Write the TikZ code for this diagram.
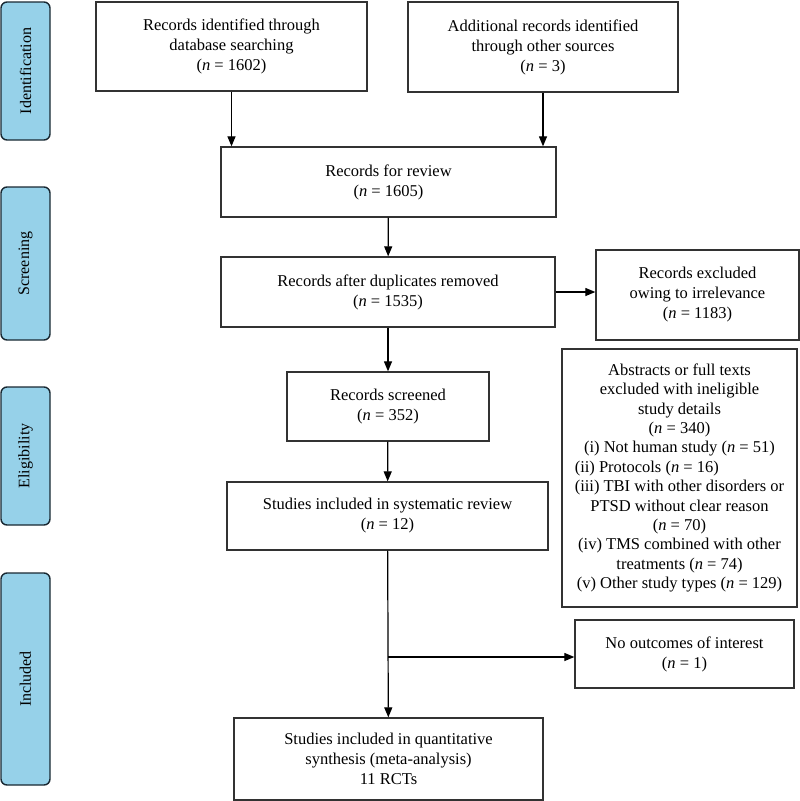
\documentclass[tikz,border=0pt]{standalone}
\usepackage{fontspec}
\setmainfont{Liberation Serif}
\usepackage{calc}
\usetikzlibrary{arrows.meta}

\definecolor{tabblue}{RGB}{150,209,233}
\definecolor{tabline}{RGB}{25,40,50}
\definecolor{boxline}{RGB}{50,50,50}

\tikzset{
  box/.style={draw=boxline,line width=1.3pt,align=center,inner sep=2pt,
    font=\fontsize{16.5}{20}\selectfont},
  tab/.style={draw=tabline,fill=tabblue,line width=1.4pt,rounded corners=6pt,
    rotate=90,minimum height=49pt,inner sep=0pt,font=\fontsize{16}{18}\selectfont},
  arr/.style={line width=1.2pt,-{Triangle[length=10pt,width=8pt]}}
}

\begin{document}
\begin{tikzpicture}[x=1pt,y=-1pt]
        % Fix the page size
        \useasboundingbox (0,0) rectangle (800,801);

        % Draw the phase tabs on the left
        \node[tab,minimum width=138pt] (ident) at (25.5,71) {Identification};
        \node[tab,minimum width=153pt] (screen) at (25.5,263.5) {Screening};
        \node[tab,minimum width=138pt] (elig) at (25.5,456) {Eligibility};
        \node[tab,minimum width=212pt] (incl) at (25.5,679) {Included};

        % Draw the main column of boxes
        \node[box,minimum width=271pt,minimum height=89pt] (dbrec) at (231.5,46.5)
          {Records identified through\\database searching\\(\textit{n} = 1602)};
        \node[box,minimum width=270pt,minimum height=90pt] (otherrec) at (543,47)
          {Additional records identified\\through other sources\\(\textit{n} = 3)};
        \node[box,minimum width=335pt,minimum height=70pt] (review) at (388.5,182)
          {Records for review\\(\textit{n} = 1605)};
        \node[box,minimum width=334pt,minimum height=70pt] (dedup) at (388,292)
          {Records after duplicates removed\\(\textit{n} = 1535)};
        \node[box,minimum width=202pt,minimum height=69pt] (screened) at (388,406.5)
          {Records screened\\(\textit{n} = 352)};
        \node[box,minimum width=321pt,minimum height=68pt] (sysrev) at (387.5,516)
          {Studies included in systematic review\\(\textit{n} = 12)};
        \node[box,minimum width=309pt,minimum height=82pt] (quant) at (388.5,759)
          {Studies included in quantitative\\synthesis (meta-analysis)\\11 RCTs};

        % Draw the exclusion boxes on the right
        \node[box,minimum width=203pt,minimum height=90pt] (excl) at (697.5,295)
          {Records excluded\\owing to irrelevance\\(\textit{n} = 1183)};
        \node[box,minimum width=235pt,minimum height=258pt,
          font=\fontsize{16.5}{19.4}\selectfont] (fulltext) at (679.5,478)
          {Abstracts or full texts\\excluded with ineligible\\study details\\(\textit{n} = 340)\\
           (i) Not human study (\textit{n} = 51)\\
           \makebox[\widthof{(iii) TBI with other disorders or}][l]{(ii) Protocols (\textit{n} = 16)}\\
           (iii) TBI with other disorders or\\PTSD without clear reason\\(\textit{n} = 70)\\
           (iv) TMS combined with other\\treatments (\textit{n} = 74)\\
           (v) Other study types (\textit{n} = 129)};
        \node[box,minimum width=219pt,minimum height=68pt] (nooutc) at (684.5,654)
          {No outcomes of interest\\(\textit{n} = 1)};

        % Draw the arrows
        \draw[arr] (dbrec.south) -- (dbrec.south |- review.north);
        \draw[arr] (otherrec.south) -- (otherrec.south |- review.north);
        \draw[arr] (review) -- (dedup);
        \draw[arr] (dedup.east) -- (dedup.east -| excl.west);
        \draw[arr] (dedup) -- (screened);
        \draw[arr] (screened) -- (sysrev);
        \draw[arr] (sysrev) -- (quant);

        % Branch to the excluded outcome box
        \coordinate (branch) at (388,657);
        \draw[arr] (branch) -- (branch -| nooutc.west);

      \end{tikzpicture}
\end{document}
